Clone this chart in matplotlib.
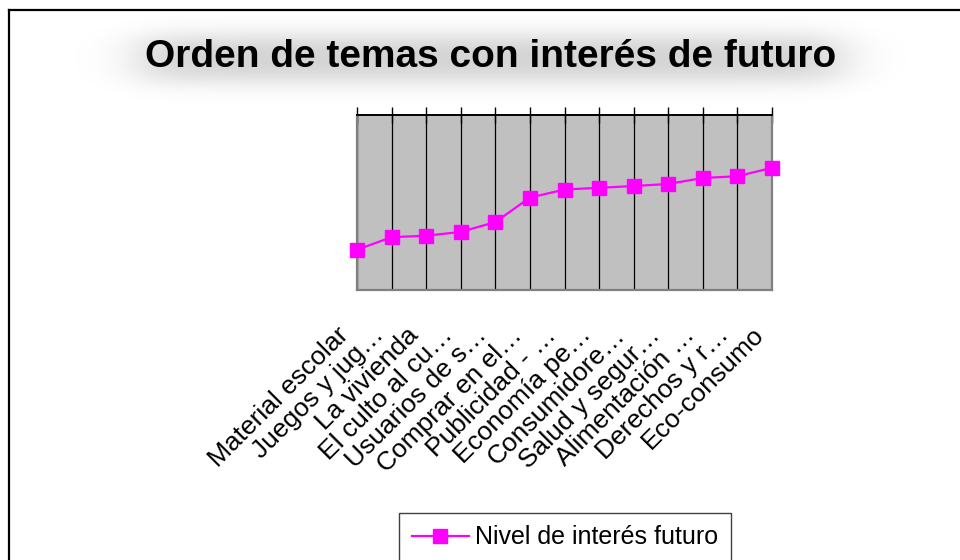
import numpy as np
import matplotlib
matplotlib.use('Agg')
import matplotlib.pyplot as plt
import matplotlib.transforms as mtransforms
from matplotlib.lines import Line2D

plt.rcParams['font.family'] = ['Liberation Sans', 'DejaVu Sans']

# categories and values (vertical scale has no labels, read relative to 0..5)
temas = ['Material escolar', 'Juegos y jug…', 'La vivienda', 'El culto al cu…',
         'Usuarios de s…', 'Comprar en el…', 'Publicidad - …', 'Economía pe…',
         'Consumidore…', 'Salud y segur…', 'Alimentación …', 'Derechos y r…',
         'Eco-consumo']
interes = [1.15, 1.51, 1.55, 1.66, 1.94, 2.64, 2.87, 2.92, 2.97, 3.03, 3.20, 3.25, 3.49]

fig = plt.figure(figsize=(9.6, 5.6), dpi=100)

# soft gray glow behind the title
gax = fig.add_axes([0, 0, 1, 1], zorder=0)
gax.axis('off')
xx = np.arange(960)
yy = np.arange(560)
fx = 0.5*(np.tanh((xx-140)/35.) - np.tanh((xx-840)/35.))
fy = 0.5*(np.tanh((yy-36)/13.) - np.tanh((yy-80)/13.))
glow = np.zeros((560, 960, 4))
glow[..., 3] = 0.18*np.outer(fy, fx)
gax.imshow(glow, extent=(0, 960, 560, 0), aspect='auto')
gax.set_xlim(0, 960)
gax.set_ylim(560, 0)

# outer chart frame (only top and left visible)
fig.add_artist(Line2D([9/960, 1], [1-10/560, 1-10/560], color='black', lw=1.6))
fig.add_artist(Line2D([9/960, 9/960], [0, 1-10/560], color='black', lw=1.6))

fig.text(491/960, 1-67/560, 'Orden de temas con interés de futuro',
         ha='center', va='baseline', fontsize=28, fontweight='bold')

ax = fig.add_axes([357/960, 1-290/560, 415/960, 175/560], zorder=2)
ax.set_facecolor('#c0c0c0')
x = np.arange(len(temas))
ax.plot(x, interes, color='#ff00ff', lw=1.6, marker='s', markersize=9.5,
        clip_on=False, zorder=3, label='Nivel de interés futuro')
ax.set_xlim(0, len(temas)-1)
ax.set_ylim(0, 5)
ax.set_yticks([])
ax.set_xticks(x)
ax.set_xticklabels(temas, rotation=45, ha='right', va='center',
                   rotation_mode='anchor', fontsize=19)
ax.tick_params(axis='x', bottom=False, top=True, labelbottom=True, labeltop=False,
               direction='inout', length=11.5, width=1, color='black', pad=24)
shift = mtransforms.ScaledTranslation(-12/100, 0, fig.dpi_scale_trans)
for lab in ax.get_xticklabels():
    lab.set_transform(lab.get_transform() + shift)
ax.grid(axis='x', color='black', lw=0.9)
for s in ['left', 'right', 'bottom']:
    ax.spines[s].set_color('#808080')
    ax.spines[s].set_linewidth(1.6)
ax.spines['top'].set_color('black')
ax.spines['top'].set_linewidth(1.4)

leg = fig.legend(loc='upper left', bbox_to_anchor=(399/960, 1-513/560),
                 fontsize=18, handlelength=2.3, handletextpad=0.25,
                 borderpad=0.5, borderaxespad=0, fancybox=False, framealpha=1)
leg.get_frame().set_edgecolor('#404040')
leg.get_frame().set_linewidth(1.0)

fig.savefig('out.png', dpi=100)
